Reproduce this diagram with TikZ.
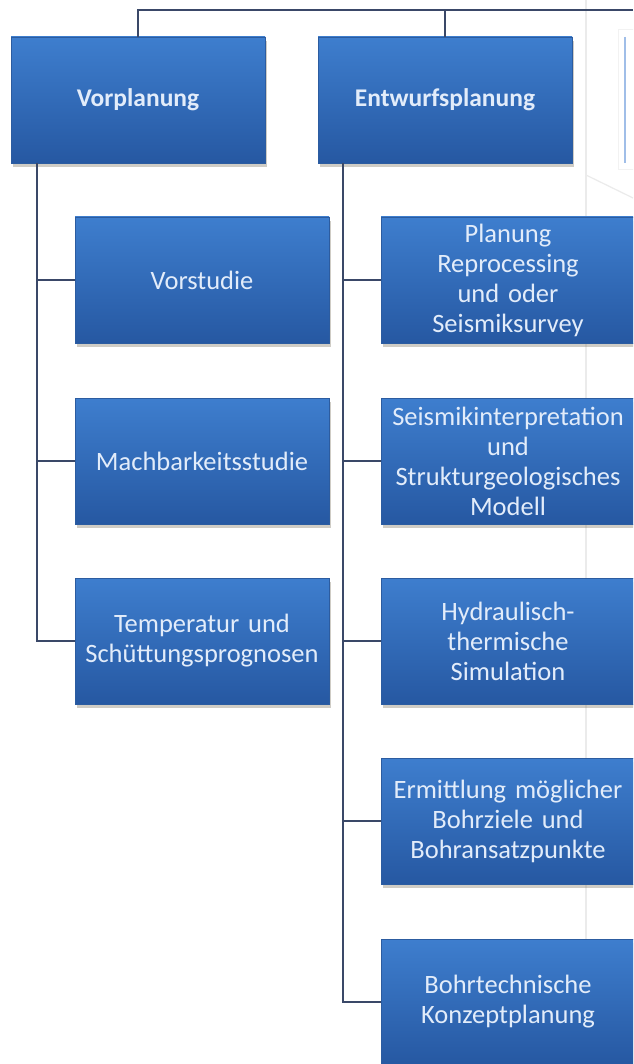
\documentclass[tikz,border=0pt]{standalone}
\usepackage{fontspec}
\setmainfont{Carlito}
\usetikzlibrary{shadows}
\definecolor{boxtop}{RGB}{62,126,206}
\definecolor{boxbot}{RGB}{38,88,162}
\definecolor{boxedge}{RGB}{44,92,160}
\definecolor{txtcol}{RGB}{226,236,250}
\definecolor{linecol}{RGB}{58,72,104}
\definecolor{shadcol}{RGB}{120,110,90}
\definecolor{ghostblue}{RGB}{160,190,232}
\tikzset{
  box/.style={rectangle, minimum width=252pt, minimum height=126pt, inner sep=2pt, outer sep=0pt,
    top color=boxtop, bottom color=boxbot, draw=boxedge, line width=0.6pt,
    text=txtcol, align=center, text width=250pt,
    font=\fontsize{26.5}{30}\selectfont,
    drop shadow={shadow xshift=2pt, shadow yshift=-4pt, opacity=0.35, fill=shadcol}},
  headbox/.style={box, font=\fontsize{25.5}{30}\selectfont\bfseries},
  conn/.style={draw=linecol, line width=1.4pt},
  ghost/.style={draw=black!8, line width=1.2pt}
}
\begin{document}
\begin{tikzpicture}[x=1pt,y=-1pt]
\useasboundingbox (0,0) rectangle (633,1064);
\clip (0,0) rectangle (633,1064);
\fill[white] (0,0) rectangle (633,1064);
% faint background artefacts
\draw[ghost] (586,0) -- (586,1064);
\draw[ghost] (586,175) -- (633,198);
\draw[draw=black!5, line width=1pt] (618,30) rectangle (720,170);
\fill[white] (625,37) rectangle (720,163);
\draw[draw=ghostblue, line width=1.2pt] (625,37) -- (625,163);
% coordinates
\coordinate (topR) at (633,10);
\coordinate (vt) at (37,163);
\coordinate (et) at (343,163);
% top-level nodes
\node[headbox] (vor) at (138,100) {Vorplanung};
\node[headbox] (ent) at (445,100) {Entwurfsplanung};
% left column
\node[box] (vs) at (202,280) {Vorstudie};
\node[box] (mb) at (202,461) {Machbarkeitsstudie};
\node[box] (tp) at (202,641) {Temperatur und\\Schüttungsprognosen};
% right column
\node[box] (pl) at (508,280) {Planung\\Reprocessing\\und oder\\Seismiksurvey};
\node[box] (si) at (508,461) {Seismikinterpretation\\und\\Strukturgeologisches\\Modell};
\node[box] (hy) at (508,641) {Hydraulisch-\\thermische\\Simulation};
\node[box] (er) at (508,821) {Ermittlung möglicher\\Bohrziele und\\Bohransatzpunkte};
\node[box] (bo) at (508,1002) {Bohrtechnische\\Konzeptplanung};
% connectors
\draw[conn] (vor.north) |- (topR);
\draw[conn] (ent.north) -- (ent.north |- topR);
\draw[conn] (vt) |- (tp.west);
\draw[conn] (vt |- vs.west) -- (vs.west);
\draw[conn] (vt |- mb.west) -- (mb.west);
\draw[conn] (et) |- (bo.west);
\draw[conn] (et |- pl.west) -- (pl.west);
\draw[conn] (et |- si.west) -- (si.west);
\draw[conn] (et |- hy.west) -- (hy.west);
\draw[conn] (et |- er.west) -- (er.west);
\end{tikzpicture}
\end{document}
